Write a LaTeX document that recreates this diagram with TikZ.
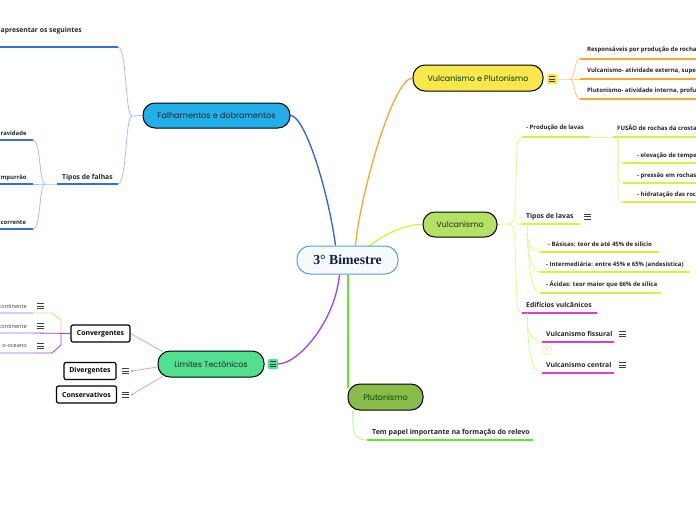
\documentclass[tikz,border=0pt]{standalone}
\usepackage{fontspec}
\setmainfont{Open Sans}
\newfontfamily\topicfont{Poppins}
\newfontfamily\centralfont{Liberation Serif}
\usetikzlibrary{calc,backgrounds}
\pgfdeclarelayer{bottom}
\pgfsetlayers{bottom,background,main}
\definecolor{fblue}{HTML}{22AEE8}
\definecolor{lineblue}{HTML}{2F5FE8}
\definecolor{ulblue}{HTML}{3A6AE8}
\definecolor{lightblue}{HTML}{A8BEF8}
\definecolor{vpyellow}{HTML}{F8E84C}
\definecolor{orangeline}{HTML}{F8A830}
\definecolor{lightorange}{HTML}{FCCC80}
\definecolor{vgreen}{HTML}{B4E064}
\definecolor{limeline}{HTML}{D8F040}
\definecolor{lightlime}{HTML}{E6F890}
\definecolor{magline}{HTML}{E040C0}
\definecolor{pgreen}{HTML}{88BB48}
\definecolor{brightgreen}{HTML}{60E830}
\definecolor{lightgreen}{HTML}{B0F890}
\definecolor{ltgreen}{HTML}{50E090}
\definecolor{purpline}{HTML}{A040F0}
\definecolor{lightpurple}{HTML}{D8A0F8}
\definecolor{lavender}{HTML}{D4D0F4}
\definecolor{cblue}{HTML}{5AA0D8}
\definecolor{cfill}{HTML}{F6FAFD}
\definecolor{navy}{HTML}{102040}
\begin{document}
\begin{tikzpicture}[x=1pt,y=-1pt,
  topic/.style={draw=black, line width=1pt, rounded corners=12pt, inner sep=0pt, font=\topicfont\fontsize{8}{9}\selectfont},
  central/.style={draw=cblue, fill=cfill, line width=1pt, rounded corners=13pt, inner sep=0pt, text=navy, font=\centralfont\bfseries\fontsize{13.8}{15}\selectfont},
  sbox/.style={draw=black, line width=1.2pt, rounded corners=2pt, fill=white, inner sep=0pt, font=\bfseries\fontsize{6.9}{8}\selectfont},
  lbl/.style={inner sep=0pt, text=black!85, font=\bfseries\fontsize{6}{7}\selectfont},
  lblm/.style={inner sep=0pt, text=black!85, font=\bfseries\fontsize{6.8}{8}\selectfont},
  lbls/.style={inner sep=0pt, text=black!85, font=\bfseries\fontsize{5.9}{7}\selectfont},
  lblr/.style={inner sep=0pt, text=black!75, font=\fontsize{5.6}{6}\selectfont},
  ul/.style={line width=1.5pt, draw=#1},
  conn/.style={line width=0.8pt, draw=#1},
  mainconn/.style={line width=1.3pt, draw=#1},
  menu/.pic={\draw[line width=0.7pt, black!75] (-3.5,-2.6) -- (3.5,-2.6) (-3.5,0) -- (3.5,0) (-3.5,2.6) -- (3.5,2.6);},
  menubox/.pic={\fill[#1, rounded corners=1pt] (-5,-5) rectangle (5,5);
    \draw[line width=0.7pt, black!75] (-3,-2.4) -- (3,-2.4) (-3,0) -- (3,0) (-3,2.4) -- (3,2.4);}
]
\useasboundingbox (0,0) rectangle (696,520);
\begin{pgfonlayer}{bottom}
\fill[white] (0,0) rectangle (696,520);
\end{pgfonlayer}

% ---------- main nodes ----------
\node[central, minimum width=101, minimum height=28] (c) at (347.5,260) {3° Bimestre};
\node[topic, fill=fblue, text=black!85, minimum width=147, minimum height=25, font=\topicfont\fontsize{8.1}{9}\selectfont] (f) at (216.5,115.5) {Falhamentos e dobramentos};
\node[topic, fill=vpyellow, text=black!80!green, minimum width=130, minimum height=26] (vp) at (478,78) {Vulcanismo e Plutonismo};
\node[topic, fill=vgreen, text=black!85, minimum width=74, minimum height=25] (v) at (460,224.5) {Vulcanismo};
\node[topic, fill=pgreen, text=black!70!green, minimum width=75, minimum height=26] (p) at (385.5,397) {Plutonismo};
\node[topic, fill=ltgreen, text=black!85, minimum width=106, minimum height=26] (lt) at (211,364) {Limites Tectônicos};

\pic at (552,79) {menubox=vpyellow};
\pic at (273,364) {menubox=ltgreen};

% ---------- Falhamentos branch ----------
\node[lblm, anchor=east] (a1) at (82,31) {apresentar os seguintes};
\node[lblm, anchor=west] (tf) at (62,178) {Tipos de falhas};
\node[lbls, anchor=west] (g1) at (0.5,133) {ravidade};
\node[lbls, anchor=west] (g2) at (0.5,178) {mpurrão};
\node[lbls, anchor=west] (g3) at (0.5,223) {corrente};
\coordinate (fb) at (132,116);
\coordinate (tb) at (45,184);

% ---------- Vulcanismo e Plutonismo branch ----------
\node[lbl, anchor=west] (r1) at (587,50) {Responsáveis por produção de rocha};
\node[lbl, anchor=west] (r2) at (587,71) {Vulcanismo- atividade externa, supe};
\node[lbl, anchor=west] (r3) at (587,91) {Plutonismo- atividade interna, profu};
\coordinate (vpb) at (570,79);

% ---------- Vulcanismo branch ----------
\coordinate (vb) at (508,224);
\node[lbl, anchor=west] (pl) at (526,127.5) {- Produção de lavas};
\node[lbl, anchor=west] (fu) at (617,127.5) {FUSÃO de rochas da crosta};
\node[lbl, anchor=west] (e1) at (637,156) {- elevação de tempe};
\node[lbl, anchor=west] (e2) at (637,176) {- pressão em rochas};
\node[lbl, anchor=west] (e3) at (637,195) {- hidratação das roc};
\node[lblm, anchor=west] (tl) at (526,216.5) {Tipos de lavas};
\pic at (587,216.5) {menu};
\node[lbl, anchor=west] (l1) at (548,244.5) {- Básicas: teor de até 45\% de silício};
\node[lbl, anchor=west] (l2) at (546,264.5) {- Intermediária: entre 45\% e 65\% (andesística)};
\node[lbl, anchor=west] (l3) at (546,284.5) {- Ácidas: teor maior que 66\% de sílica};
\node[lblm, anchor=west] (ed) at (526,305) {Edifícios vulcânicos};
\node[lblm, anchor=west] (vf) at (546,334) {Vulcanismo fissural};
\pic at (622,334) {menu};
\node[lblm, anchor=west] (vc) at (546,365) {Vulcanismo central};
\pic at (622,365) {menu};
\node[circle, draw=limeline!70, line width=0.5pt, inner sep=0pt, minimum size=9, text=limeline!60!gray, font=\fontsize{5}{5}\selectfont] (b1) at (547,350) {1};

% ---------- Plutonismo branch ----------
\node[inner sep=0pt, text=black!85, font=\bfseries\fontsize{7}{8}\selectfont, anchor=west] (tp) at (372,432.5) {Tem papel importante na formação do relevo};

% ---------- Limites branch ----------
\node[sbox, minimum width=59, minimum height=17] (cv) at (100.5,333.5) {Convergentes};
\node[sbox, minimum width=52, minimum height=17] (dv) at (90,371) {Divergentes};
\node[sbox, minimum width=60, minimum height=17] (cs) at (86.5,394.5) {Conservativos};
\pic at (125,371) {menu};
\pic at (125,394.5) {menu};
\node[lblr, anchor=east] (k1) at (27,306) {continente};
\node[lblr, anchor=east] (k2) at (27,326) {continente};
\node[lblr, anchor=east] (k3) at (27,346) {o-oceano};
\pic at (40,306) {menu};
\pic at (40,326) {menu};
\pic at (40,346) {menu};
\coordinate (dvend) at (132,371);
\coordinate (csend) at (132,394.5);

\begin{pgfonlayer}{background}
% main connectors
\draw[mainconn=lineblue] (f.east) .. controls (305,116) and (328,190) .. ($(c.north)+(-12,0)$);
\draw[mainconn=orangeline] ($(c.north)+(8,0)$) .. controls (360,195) and (393,78) .. (vp.west);
\draw[mainconn=limeline] ($(c.north east)+(-30,1)$) .. controls (385,234) and (405,224) .. (v.west);
\draw[line width=1.8pt, draw=brightgreen] ($(c.south)+(0.5,0)$) -- ($(p.north west)+(0.5,4)$);
\draw[mainconn=purpline] ($(c.south)+(-8,0)$) .. controls (335,322) and (298,364) .. (278,364);

% Falhamentos
\draw[conn=lightblue] (f.west) -- (fb);
\draw[conn=lightblue] (fb) .. controls (125,116) and (127,47) .. (118,47);
\draw[ul=ulblue] (118,47) -- (0,47);
\draw[conn=lightblue] (fb) .. controls (125,116) and (127,184) .. (118,184);
\draw[ul=ulblue] (118,184) -- (57,184);
\draw[conn=lightblue] (57,184) -- (tb) -- (33,184);
\draw[conn=lightblue] (tb) .. controls (39,184) and (41,140) .. (33,140);
\draw[conn=lightblue] (tb) .. controls (39,184) and (41,229) .. (33,229);
\draw[ul=ulblue] (33,140) -- (0,140);
\draw[ul=ulblue] (33,184) -- (0,184);
\draw[ul=ulblue] (33,229) -- (0,229);

% Vulcanismo e Plutonismo
\draw[conn=lightorange] (557,79) -- (vpb) -- (580,79);
\draw[conn=lightorange] (vpb) .. controls (575,79) and (574,59) .. (580,59);
\draw[conn=lightorange] (vpb) .. controls (575,79) and (574,99) .. (580,99);
\draw[ul=orangeline] (580,59) -- (696,59);
\draw[ul=orangeline] (580,79) -- (696,79);
\draw[ul=orangeline] (580,99) -- (696,99);

% Vulcanismo
\draw[conn=lightlime] (v.east) -- (vb) -- (522,224);
\draw[conn=lightlime] (vb) .. controls (514,224) and (515,218) .. (515,205) -- (517,150) .. controls (517.5,140) and (519,137) .. (524,137);
\draw[conn=lightlime] (vb) .. controls (514,224) and (515,232) .. (515,245) -- (517,300) .. controls (517.5,310) and (519,313) .. (524,313);
\draw[ul=limeline] (522,137) -- (590,137);
\draw[conn=lightlime] (590,137) -- (613,137);
\draw[ul=limeline] (613,137) -- (696,137);
\draw[conn=lightlime, rounded corners=4pt] (618,137) |- (624,163);
\draw[conn=lightlime, rounded corners=4pt] (618,137) |- (624,183);
\draw[conn=lightlime, rounded corners=4pt] (618,137) |- (624,202);
\draw[ul=limeline] (623,163) -- (696,163);
\draw[ul=limeline] (623,183) -- (696,183);
\draw[ul=limeline] (623,202) -- (696,202);
\draw[ul=limeline] (522,224) -- (580,224);
\draw[conn=lightlime] (527,224) -- (527,233);
\draw[conn=lightlime] (527,233) .. controls (528,245) and (532,252) .. (541,252);
\draw[conn=lightlime] (527,233) .. controls (529,258) and (531,272) .. (541,272);
\draw[conn=lightlime] (527,233) .. controls (529,268) and (531,293) .. (541,293);
\draw[ul=limeline] (540,252) -- (659,252);
\draw[ul=limeline] (540,272) -- (690,272);
\draw[ul=limeline] (540,293) -- (661,293);
\draw[ul=magline] (522,313) -- (597,313);
\draw[conn=lightlime] (527,313) -- (527,321);
\draw[conn=lightlime] (527,321) .. controls (528,334) and (532,342) .. (543,342);
\draw[conn=lightlime] (527,321) .. controls (529,352) and (531,373) .. (543,373);
\draw[ul=magline] (542,342) -- (614,342);
\draw[ul=magline] (542,373) -- (614,373);

% Plutonismo
\draw[conn=lightgreen] ($(p.south west)+(5,0)$) -- (353,425) .. controls (354,436) and (358,440) .. (367,440);
\draw[ul=brightgreen] (367,440) -- (533,440);

% Limites
\draw[conn=lightpurple] ($(lt.north west)+(5,1)$) -- (cv.east);
\draw[conn=lightpurple] ($(lt.west)+(0,3)$) -- (dvend);
\draw[conn=lightpurple] ($(lt.south west)+(5,-1)$) -- (csend);
\fill[purpline!70] (dvend) circle (1pt) (csend) circle (1pt);
\draw[conn=purpline] (cv.west) -- (33,333);
\draw[conn=lightorange] (33,313) -- (52,313) -- (61,320) -- (61,333);
\draw[conn=purpline] (61,333) -- (61,345) -- (52,353) -- (33,353);
\draw[ul=lavender] (0,313) -- (33,313);
\draw[ul=lavender] (0,333) -- (33,333);
\draw[ul=lavender] (0,353) -- (33,353);
\end{pgfonlayer}
\end{tikzpicture}
\end{document}
